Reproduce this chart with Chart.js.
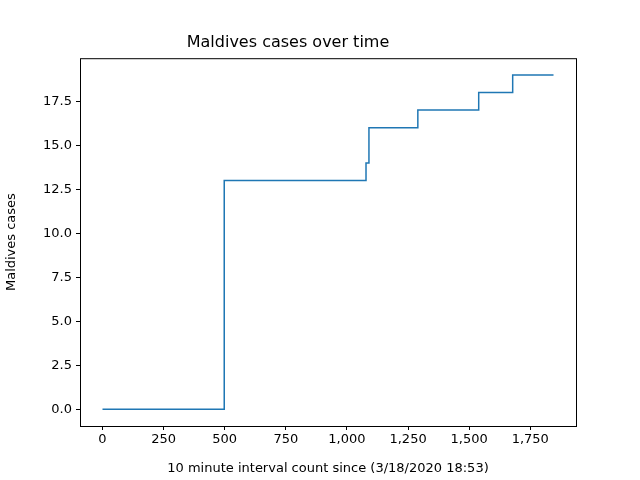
<!DOCTYPE html>
<html>
<head>
<script src="https://cdn.jsdelivr.net/npm/chart.js@4"></script>
<style>body{margin:0;background:#fff}#wrap{width:640px;height:480px}</style>
</head>
<body>
<div id="wrap"><canvas id="c"></canvas></div>
<script>
const intervals = [0, 498, 1078, 1090, 1290, 1539, 1678, 1845];
const cases = [0, 13, 14, 16, 17, 18, 19, 19];
const xTicks = [0, 250, 500, 750, 1000, 1250, 1500, 1750];
const yTicks = [0, 2.5, 5, 7.5, 10, 12.5, 15, 17.5];

const font = { family: 'DejaVu Sans', size: 13 };

const boxPlugin = {
  id: 'box',
  afterDraw(chart) {
    const a = chart.chartArea, ctx = chart.ctx;
    ctx.save();
    ctx.strokeStyle = '#000';
    ctx.lineWidth = 1;
    ctx.strokeRect(a.left + 0.5, a.top + 0.5, a.width, a.height);
    ctx.restore();
  }
};

const axisGrid = { display: true, drawOnChartArea: false, drawTicks: true, tickLength: 4, color: '#000' };

new Chart(document.getElementById('c'), {
  type: 'line',
  data: {
    datasets: [{
      data: intervals.map((x, i) => ({ x: x, y: cases[i] })),
      stepped: true,
      borderColor: '#1f77b4',
      borderWidth: 1.5,
      pointRadius: 0,
      fill: false
    }]
  },
  options: {
    responsive: true,
    maintainAspectRatio: false,
    animation: false,
    layout: { padding: { left: 0, right: 64, top: 0, bottom: 0 } },
    plugins: {
      legend: { display: false },
      tooltip: { enabled: false },
      title: {
        display: true,
        text: 'Maldives cases over time',
        color: '#000',
        font: { family: 'DejaVu Sans', size: 16, weight: 'normal' },
        padding: { top: 33, bottom: 6 }
      }
    },
    scales: {
      x: {
        type: 'linear',
        min: -92,
        max: 1937,
        grid: axisGrid,
        border: { display: false },
        afterBuildTicks: s => { s.ticks = xTicks.map(v => ({ value: v })); },
        afterFit: s => { s.height = 54; },
        ticks: { color: '#000', font: font, maxRotation: 0, padding: 2 },
        title: { display: true, text: '10 minute interval count since (3/18/2020 18:53)', color: '#000', font: font, padding: { top: 2 } }
      },
      y: {
        min: -0.95,
        max: 19.95,
        grid: axisGrid,
        border: { display: false },
        afterBuildTicks: s => { s.ticks = yTicks.map(v => ({ value: v })); },
        afterFit: s => { s.width = 80; },
        ticks: { color: '#000', font: font, padding: 4, callback: v => v.toFixed(1) },
        title: { display: true, text: 'Maldives cases', color: '#000', font: font, padding: { bottom: 4 } }
      }
    }
  },
  plugins: [boxPlugin]
});
</script>
</body>
</html>
